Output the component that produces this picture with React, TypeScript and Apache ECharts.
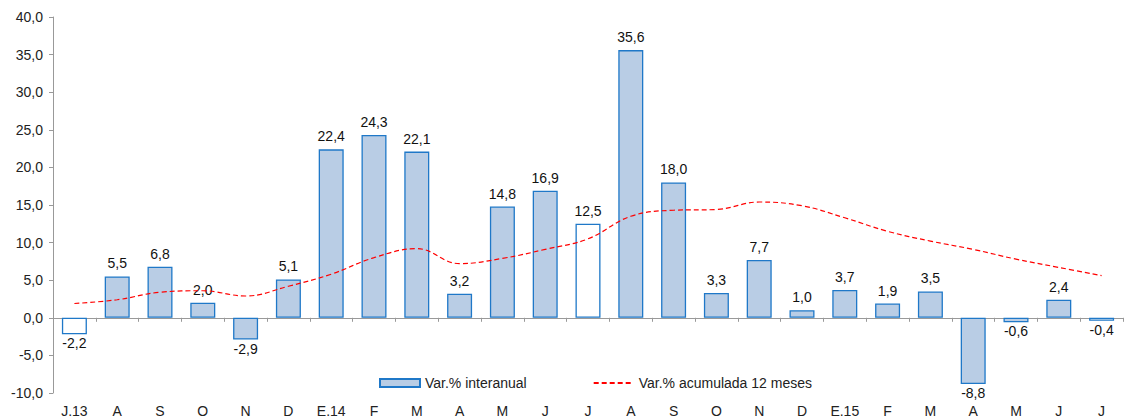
import React, { useEffect, useRef } from "react";
import * as echarts from "echarts";

const categories = ["J.13", "A", "S", "O", "N", "D", "E.14", "F", "M", "A", "M", "J", "J", "A", "S", "O", "N", "D", "E.15", "F", "M", "A", "M", "J", "J"];
const interanual = [-2.2, 5.5, 6.8, 2.0, -2.9, 5.1, 22.4, 24.3, 22.1, 3.2, 14.8, 16.9, 12.5, 35.6, 18.0, 3.3, 7.7, 1.0, 3.7, 1.9, 3.5, -8.8, -0.6, 2.4, -0.4];
const acumulada = [1.9, 2.4, 3.4, 3.6, 2.9, 4.2, 5.8, 8.0, 9.2, 7.2, 7.9, 9.1, 10.5, 13.5, 14.3, 14.4, 15.4, 14.9, 13.3, 11.5, 10.2, 9.1, 7.8, 6.7, 5.6];
const yTicks = { min: -10, max: 40, interval: 5 };
const seriesNames = ["Var.% interanual", "Var.% acumulada 12 meses"];

const FONT = "'Liberation Sans', Arial, sans-serif";
const FS = 14;
const fmt = (v: number) => v.toFixed(1).replace(".", ",");

export default function App() {
  const ref = useRef<HTMLDivElement>(null);
  useEffect(() => {
    if (!ref.current) return;
    const chart = echarts.init(ref.current, undefined, { renderer: "svg" });
    const barData = interanual.map((v, i) => ({
      value: v,
      itemStyle: i % 12 === 0 ? { color: "#ffffff" } : undefined,
      label: { position: v < 0 ? "bottom" : "top", distance: v < 0 ? 2 : 6 },
    }));
    chart.setOption({
      animation: false,
      textStyle: { fontFamily: FONT },
      grid: { left: 53, right: 2, top: 17, bottom: 24, containLabel: false },
      legend: {
        data: [
          { name: seriesNames[0], icon: "rect" },
          { name: seriesNames[1], itemStyle: { opacity: 0 } },
        ],
        left: 379,
        top: 376,
        padding: 0,
        itemWidth: 40,
        itemHeight: 8,
        itemGap: 66,
        textStyle: { fontFamily: FONT, fontSize: FS, color: "#222" },
      },
      xAxis: [
        {
          type: "category",
          data: categories,
          position: "bottom",
          axisLine: { show: false, onZero: false },
          axisTick: { show: false },
          axisLabel: { fontFamily: FONT, fontSize: FS, color: "#222", margin: 11, interval: 0 },
        },
        {
          type: "category",
          data: categories,
          position: "bottom",
          axisLine: { show: true, onZero: true, lineStyle: { color: "#999", width: 1 } },
          axisTick: { show: true, length: 4, lineStyle: { color: "#999" } },
          axisLabel: { show: false },
        },
      ],
      yAxis: {
        type: "value",
        min: yTicks.min,
        max: yTicks.max,
        interval: yTicks.interval,
        splitLine: { show: false },
        axisLine: { show: true, lineStyle: { color: "#999", width: 1 } },
        axisTick: { show: true, length: 4, lineStyle: { color: "#999" } },
        axisLabel: { fontFamily: FONT, fontSize: FS, color: "#222", margin: 10, formatter: (v: number) => fmt(v) },
      },
      series: [
        {
          name: seriesNames[0],
          type: "bar",
          xAxisIndex: 0,
          data: barData,
          barWidth: 25,
          itemStyle: { color: "#b9cde5", borderColor: "#1f78c8", borderWidth: 1.3 },
          label: {
            show: true,
            fontFamily: FONT,
            fontSize: FS,
            color: "#111",
            formatter: (p: any) => fmt(p.value),
          },
          z: 2,
        },
        {
          name: seriesNames[1],
          type: "line",
          xAxisIndex: 0,
          data: acumulada,
          smooth: 0.4,
          symbol: "none",
          lineStyle: { color: "#ff0000", width: 1.2, type: [5, 3] },
          itemStyle: { color: "#ff0000" },
          z: 3,
        },
      ],
    });
    return () => chart.dispose();
  }, []);
  return (
    <div
      ref={ref}
      style={{ position: "fixed", left: 0, top: 0, width: 1125, height: 418, background: "#fff" }}
    />
  );
}
